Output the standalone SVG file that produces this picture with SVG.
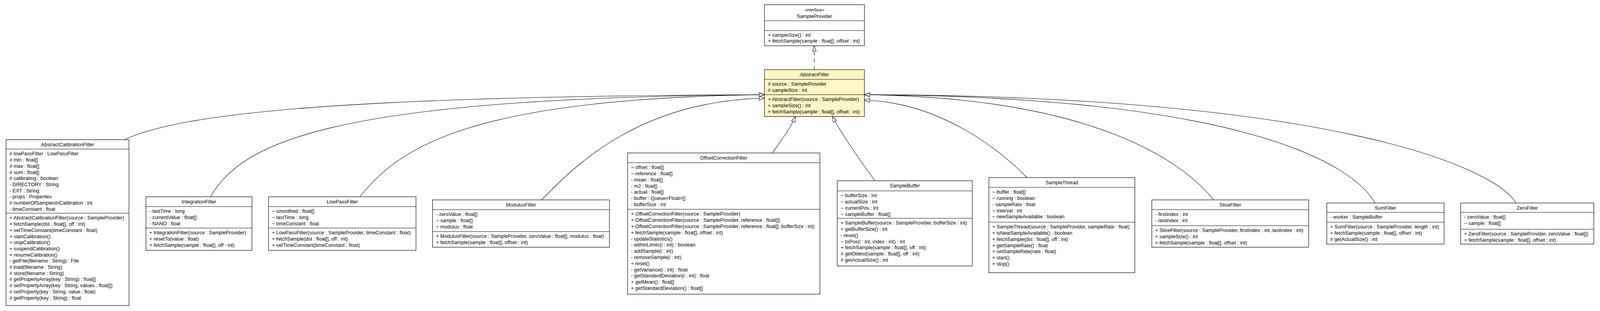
<svg xmlns="http://www.w3.org/2000/svg" width="4241" height="795" viewBox="0 0 4241 795">
<style>
.box{fill:#fff;stroke:#000;stroke-width:1.2}
.cur{fill:#FDF6C4}
.sep{stroke:#000;stroke-width:1.2}
text{font-family:"Liberation Sans",Arial,Helvetica,sans-serif;font-size:13.2px;fill:#000}
.t{text-anchor:middle}
.i{font-style:italic}
.st{font-size:10.5px}
.edge{fill:none;stroke:#000;stroke-width:1.1;marker-end:url(#tri)}
.dash{stroke-dasharray:10,8}
</style>
<defs>
<marker id="tri" viewBox="0 0 16 12" refX="15" refY="6" markerWidth="16" markerHeight="12" markerUnits="userSpaceOnUse" orient="auto" overflow="visible">
<path d="M1,1 L15,6 L1,11 Z" fill="#fff" stroke="#000" stroke-width="1.1" stroke-dasharray="none"/>
</marker>
</defs>
<g id="diagram" transform="scale(0.9655,1)">
<g id="connectors">
<path class="edge dash" d="M2159,178 L2159,117"/>
<path class="edge" d="M330,357 C480,290 900,246 2027,242"/>
<path class="edge" d="M558,503 C640,370 850,250 2027,242"/>
<path class="edge" d="M954,503 C1060,375 1250,252 2027,242"/>
<path class="edge" d="M1436,511 C1530,417 1700,258 2027,251"/>
<path class="edge" d="M2048,391 C2070,360 2095,330 2109,298"/>
<path class="edge" d="M2320,462 C2280,410 2230,340 2207,298"/>
<path class="edge" d="M2723,454 C2660,391 2500,262 2292,256"/>
<path class="edge" d="M3218,511 C3134,411 2900,250 2292,242"/>
<path class="edge" d="M3646,519 C3587,419 3300,248 2292,242"/>
<path class="edge" d="M4020,519 C3954,419 3500,245 2292,242"/>
</g>
<g id="SampleProvider">
<rect class="box" x="2027" y="12" width="265" height="105"/>
<line class="sep" x1="2027" y1="53" x2="2292" y2="53"/>
<line class="sep" x1="2027" y1="78" x2="2292" y2="78"/>
<text class="t st" x="2159.5" y="29">«interface»</text>
<text class="t" x="2159.5" y="46.5">SampleProvider</text>
<text class="i" x="2036" y="94"><tspan x="2036">+ sampleSize() : int</tspan><tspan x="2036" dy="15.5">+ fetchSample(sample : float[], offset : int)</tspan></text>
</g>
<g id="AbstractFilter">
<rect class="box cur" x="2027" y="178" width="265" height="120"/>
<line class="sep" x1="2027" y1="203" x2="2292" y2="203"/>
<line class="sep" x1="2027" y1="242" x2="2292" y2="242"/>
<text class="t i" x="2159.5" y="195">AbstractFilter</text>
<text x="2036" y="219.5"><tspan x="2036"># source : SampleProvider</tspan><tspan x="2036" dy="15.7"># sampleSize : int</tspan></text>
<text x="2036" y="258.5"><tspan x="2036">+ AbstractFilter(source : SampleProvider)</tspan><tspan x="2036" dy="15.7">+ sampleSize() : int</tspan><tspan x="2036" dy="15.7">+ fetchSample(sample : float[], offset : int)</tspan></text>
</g>
<g id="AbstractCalibrationFilter">
<rect class="box" x="16" y="357" width="326" height="424"/>
<line class="sep" x1="16" y1="381" x2="342" y2="381"/>
<line class="sep" x1="16" y1="545" x2="342" y2="545"/>
<text class="t i" x="179" y="374">AbstractCalibrationFilter</text>
<text x="25" y="397.5"><tspan x="25"># lowPassFilter : LowPassFilter</tspan><tspan x="25" dy="15.7"># min : float[]</tspan><tspan x="25" dy="15.7"># max : float[]</tspan><tspan x="25" dy="15.7"># sum : float[]</tspan><tspan x="25" dy="15.7"># calibrating : boolean</tspan><tspan x="25" dy="15.7">- DIRECTORY : String</tspan><tspan x="25" dy="15.7">- EXT : String</tspan><tspan x="25" dy="15.7">- props : Properties</tspan><tspan x="25" dy="15.7"># numberOfSamplesInCalibration : int</tspan><tspan x="25" dy="15.7">- timeConstant : float</tspan></text>
<text x="25" y="561.5"><tspan x="25">+ AbstractCalibrationFilter(source : SampleProvider)</tspan><tspan x="25" dy="15.7">+ fetchSample(dst : float[], off : int)</tspan><tspan x="25" dy="15.7">+ setTimeConstant(timeConstant : float)</tspan><tspan x="25" dy="15.7">+ startCalibration()</tspan><tspan x="25" dy="15.7">+ stopCalibration()</tspan><tspan x="25" dy="15.7">+ suspendCalibration()</tspan><tspan x="25" dy="15.7">+ resumeCalibration()</tspan><tspan x="25" dy="15.7">- getFile(filename : String) : File</tspan><tspan x="25" dy="15.7"># load(filename : String)</tspan><tspan x="25" dy="15.7"># store(filename : String)</tspan><tspan x="25" dy="15.7"># getPropertyArray(key : String) : float[]</tspan><tspan x="25" dy="15.7"># setPropertyArray(key : String, values : float[])</tspan><tspan x="25" dy="15.7"># setProperty(key : String, value : float)</tspan><tspan x="25" dy="15.7"># getProperty(key : String) : float</tspan></text>
</g>
<g id="IntegrationFilter">
<rect class="box" x="387" y="503" width="281" height="137"/>
<line class="sep" x1="387" y1="528" x2="668" y2="528"/>
<line class="sep" x1="387" y1="583" x2="668" y2="583"/>
<text class="t" x="527.5" y="520">IntegrationFilter</text>
<text x="396" y="544.5"><tspan x="396">- lastTime : long</tspan><tspan x="396" dy="15.7">- currentValue : float[]</tspan><tspan x="396" dy="15.7">- NANO : float</tspan></text>
<text x="396" y="599.5"><tspan x="396">+ IntegrationFilter(source : SampleProvider)</tspan><tspan x="396" dy="15.7">+ resetTo(value : float)</tspan><tspan x="396" dy="15.7">+ fetchSample(sample : float[], off : int)</tspan></text>
</g>
<g id="LowPassFilter">
<rect class="box" x="712" y="503" width="391" height="137"/>
<line class="sep" x1="712" y1="528" x2="1103" y2="528"/>
<line class="sep" x1="712" y1="583" x2="1103" y2="583"/>
<text class="t" x="907.5" y="520">LowPassFilter</text>
<text x="721" y="544.5"><tspan x="721">~ smoothed : float[]</tspan><tspan x="721" dy="15.7">~ lastTime : long</tspan><tspan x="721" dy="15.7">~ timeConstant : float</tspan></text>
<text x="721" y="599.5"><tspan x="721">+ LowPassFilter(source : SampleProvider, timeConstant : float)</tspan><tspan x="721" dy="15.7">+ fetchSample(dst : float[], off : int)</tspan><tspan x="721" dy="15.7">+ setTimeConstant(timeConstant : float)</tspan></text>
</g>
<g id="ModulusFilter">
<rect class="box" x="1147" y="511" width="469" height="121"/>
<line class="sep" x1="1147" y1="536" x2="1616" y2="536"/>
<line class="sep" x1="1147" y1="592" x2="1616" y2="592"/>
<text class="t" x="1381.5" y="528">ModulusFilter</text>
<text x="1156" y="552.5"><tspan x="1156">- zeroValue : float[]</tspan><tspan x="1156" dy="15.7">~ sample : float[]</tspan><tspan x="1156" dy="15.7">~ modulus : float</tspan></text>
<text x="1156" y="608.5"><tspan x="1156">+ ModulusFilter(source : SampleProvider, zeroValue : float[], modulus : float)</tspan><tspan x="1156" dy="15.7">+ fetchSample(sample : float[], offset : int)</tspan></text>
</g>
<g id="OffsetCorrectionFilter">
<rect class="box" x="1664" y="391" width="510" height="361"/>
<line class="sep" x1="1664" y1="416" x2="2174" y2="416"/>
<line class="sep" x1="1664" y1="535" x2="2174" y2="535"/>
<text class="t" x="1919" y="408">OffsetCorrectionFilter</text>
<text x="1673" y="432.5"><tspan x="1673">~ offset : float[]</tspan><tspan x="1673" dy="15.7">~ reference : float[]</tspan><tspan x="1673" dy="15.7">- mean : float[]</tspan><tspan x="1673" dy="15.7">- m2 : float[]</tspan><tspan x="1673" dy="15.7">- actual : float[]</tspan><tspan x="1673" dy="15.7">- buffer : Queue&lt;Float&gt;[]</tspan><tspan x="1673" dy="15.7">- bufferSize : int</tspan></text>
<text x="1673" y="551.5"><tspan x="1673">+ OffsetCorrectionFilter(source : SampleProvider)</tspan><tspan x="1673" dy="15.8">+ OffsetCorrectionFilter(source : SampleProvider, reference : float[])</tspan><tspan x="1673" dy="15.8">+ OffsetCorrectionFilter(source : SampleProvider, reference : float[], bufferSize : int)</tspan><tspan x="1673" dy="15.8">+ fetchSample(sample : float[], offset : int)</tspan><tspan x="1673" dy="15.8">- updateStatistics()</tspan><tspan x="1673" dy="15.8">- withinLimits(i : int) : boolean</tspan><tspan x="1673" dy="15.8">- addSample(i : int)</tspan><tspan x="1673" dy="15.8">- removeSample(i : int)</tspan><tspan x="1673" dy="15.8">+ reset()</tspan><tspan x="1673" dy="15.8">- getVariance(i : int) : float</tspan><tspan x="1673" dy="15.8">- getStandardDeviation(i : int) : float</tspan><tspan x="1673" dy="15.8">+ getMean() : float[]</tspan><tspan x="1673" dy="15.8">+ getStandardDeviation() : float[]</tspan></text>
</g>
<g id="SampleBuffer">
<rect class="box" x="2220" y="462" width="358" height="218"/>
<line class="sep" x1="2220" y1="488" x2="2578" y2="488"/>
<line class="sep" x1="2220" y1="558" x2="2578" y2="558"/>
<text class="t i" x="2399" y="479">SampleBuffer</text>
<text x="2229" y="504.5"><tspan x="2229">~ bufferSize : int</tspan><tspan x="2229" dy="15.7">~ actualSize : int</tspan><tspan x="2229" dy="15.7">~ currentPos : int</tspan><tspan x="2229" dy="15.7">~ sampleBuffer : float[]</tspan></text>
<text x="2229" y="574.5"><tspan x="2229">+ SampleBuffer(source : SampleProvider, bufferSize : int)</tspan><tspan x="2229" dy="15.7">+ getBufferSize() : int</tspan><tspan x="2229" dy="15.7">- reset()</tspan><tspan x="2229" dy="15.7">~ toPos(i : int, index : int) : int</tspan><tspan x="2229" dy="15.7">+ fetchSample(sample : float[], off : int)</tspan><tspan x="2229" dy="15.7"># getOldest(sample : float[], off : int)</tspan><tspan x="2229" dy="15.7"># getActualSize() : int</tspan></text>
</g>
<g id="SampleThread">
<rect class="box" x="2622" y="454" width="387" height="243"/>
<line class="sep" x1="2622" y1="479" x2="3009" y2="479"/>
<line class="sep" x1="2622" y1="568" x2="3009" y2="568"/>
<text class="t" x="2815.5" y="471">SampleThread</text>
<text x="2631" y="495.5"><tspan x="2631">~ buffer : float[]</tspan><tspan x="2631" dy="15.7">~ running : boolean</tspan><tspan x="2631" dy="15.7">- sampleRate : float</tspan><tspan x="2631" dy="15.7">~ interval : int</tspan><tspan x="2631" dy="15.7">~ newSampleAvailable : boolean</tspan></text>
<text x="2631" y="584.5"><tspan x="2631">+ SampleThread(source : SampleProvider, sampleRate : float)</tspan><tspan x="2631" dy="15.7">+ isNewSampleAvailable() : boolean</tspan><tspan x="2631" dy="15.7">+ fetchSample(dst : float[], off : int)</tspan><tspan x="2631" dy="15.7">+ getSampleRate() : float</tspan><tspan x="2631" dy="15.7">+ setSampleRate(rate : float)</tspan><tspan x="2631" dy="15.7">+ start()</tspan><tspan x="2631" dy="15.7">+ stop()</tspan></text>
</g>
<g id="SliceFilter">
<rect class="box" x="3054" y="511" width="416" height="121"/>
<line class="sep" x1="3054" y1="536" x2="3470" y2="536"/>
<line class="sep" x1="3054" y1="577" x2="3470" y2="577"/>
<text class="t" x="3262" y="528">SliceFilter</text>
<text x="3063" y="552.5"><tspan x="3063">- firstIndex : int</tspan><tspan x="3063" dy="15.7">- lastIndex : int</tspan></text>
<text x="3063" y="593.5"><tspan x="3063">+ SliceFilter(source : SampleProvider, firstIndex : int, lastIndex : int)</tspan><tspan x="3063" dy="15.7">+ sampleSize() : int</tspan><tspan x="3063" dy="15.7">+ fetchSample(sample : float[], offset : int)</tspan></text>
</g>
<g id="SumFilter">
<rect class="box" x="3518" y="519" width="311" height="105"/>
<line class="sep" x1="3518" y1="543" x2="3829" y2="543"/>
<line class="sep" x1="3518" y1="568" x2="3829" y2="568"/>
<text class="t" x="3673.5" y="536">SumFilter</text>
<text x="3527" y="559.5">- worker : SampleBuffer</text>
<text x="3527" y="584.5"><tspan x="3527">+ SumFilter(source : SampleProvider, length : int)</tspan><tspan x="3527" dy="15.7">+ fetchSample(sample : float[], offset : int)</tspan><tspan x="3527" dy="15.7"># getActualSize() : int</tspan></text>
</g>
<g id="ZeroFilter">
<rect class="box" x="3873" y="519" width="353" height="105"/>
<line class="sep" x1="3873" y1="543" x2="4226" y2="543"/>
<line class="sep" x1="3873" y1="586" x2="4226" y2="586"/>
<text class="t" x="4049.5" y="536">ZeroFilter</text>
<text x="3882" y="559.5"><tspan x="3882">- zeroValue : float[]</tspan><tspan x="3882" dy="15.7">~ sample : float[]</tspan></text>
<text x="3882" y="602.5"><tspan x="3882">+ ZeroFilter(source : SampleProvider, zeroValue : float[])</tspan><tspan x="3882" dy="15.7">+ fetchSample(sample : float[], offset : int)</tspan></text>
</g>
</g>
</svg>
